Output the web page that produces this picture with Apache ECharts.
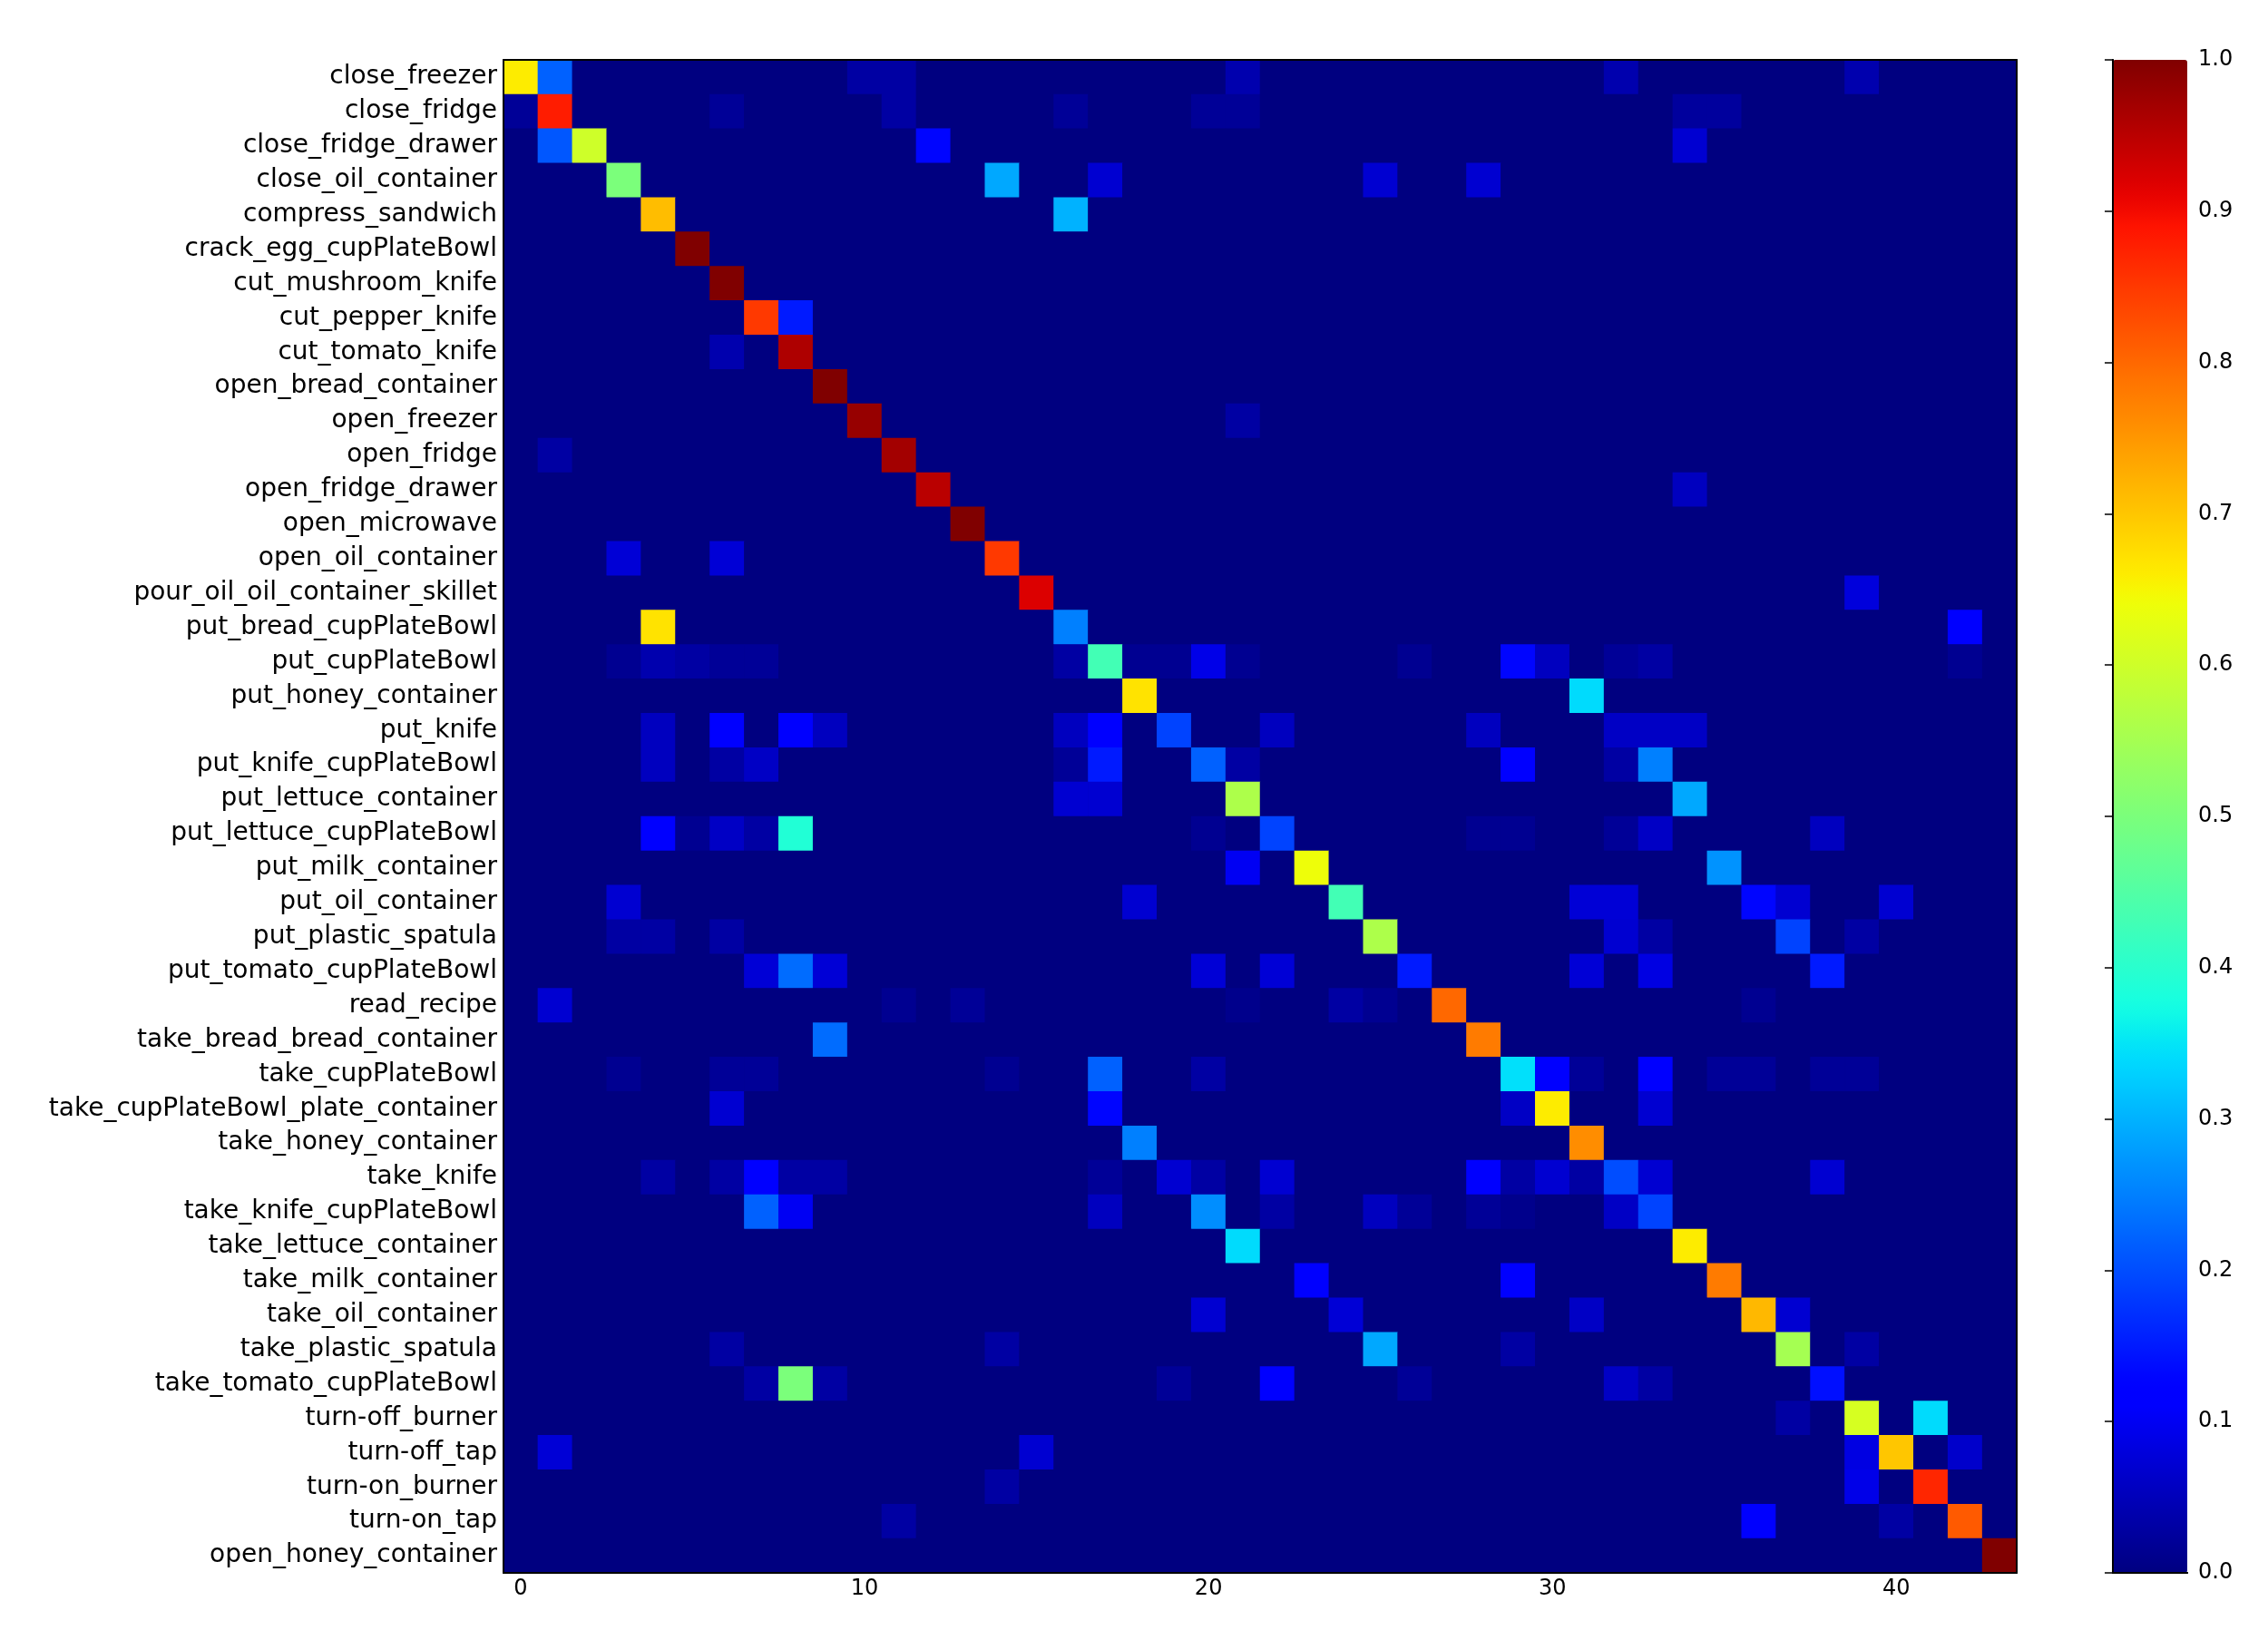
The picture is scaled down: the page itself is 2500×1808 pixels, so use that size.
<!DOCTYPE html>
<html>
<head>
<meta charset="utf-8">
<script src="https://cdn.jsdelivr.net/npm/echarts@6/dist/echarts.min.js"></script>
<style>
  html, body { margin: 0; padding: 0; background: #fff; }
  #chart { width: 2500px; height: 1808px; }
</style>
</head>
<body>
<div id="chart"></div>
<script>
// class names, top to bottom
const labels = [
  'close_freezer', 'close_fridge', 'close_fridge_drawer', 'close_oil_container',
  'compress_sandwich', 'crack_egg_cupPlateBowl', 'cut_mushroom_knife', 'cut_pepper_knife',
  'cut_tomato_knife', 'open_bread_container', 'open_freezer', 'open_fridge',
  'open_fridge_drawer', 'open_microwave', 'open_oil_container', 'pour_oil_oil_container_skillet',
  'put_bread_cupPlateBowl', 'put_cupPlateBowl', 'put_honey_container', 'put_knife',
  'put_knife_cupPlateBowl', 'put_lettuce_container', 'put_lettuce_cupPlateBowl', 'put_milk_container',
  'put_oil_container', 'put_plastic_spatula', 'put_tomato_cupPlateBowl', 'read_recipe',
  'take_bread_bread_container', 'take_cupPlateBowl', 'take_cupPlateBowl_plate_container', 'take_honey_container',
  'take_knife', 'take_knife_cupPlateBowl', 'take_lettuce_container', 'take_milk_container',
  'take_oil_container', 'take_plastic_spatula', 'take_tomato_cupPlateBowl', 'turn-off_burner',
  'turn-off_tap', 'turn-on_burner', 'turn-on_tap', 'open_honey_container'
];

// predicted class index on the x axis
const xCats = labels.map((_, i) => String(i));

// non-zero cells: [row, col, value]; every other cell is 0
const cells = [
  [0, 0, 0.66], [0, 1, 0.22], [0, 10, 0.03], [0, 11, 0.03], [0, 21, 0.04], [0, 32, 0.04], [0, 39, 0.04],
  [1, 0, 0.02], [1, 1, 0.88], [1, 6, 0.02], [1, 11, 0.03], [1, 16, 0.02], [1, 20, 0.02], [1, 21, 0.02], [1, 34, 0.025], [1, 35, 0.025],
  [2, 1, 0.21], [2, 2, 0.6], [2, 12, 0.13], [2, 34, 0.07],
  [3, 3, 0.5], [3, 14, 0.29], [3, 17, 0.07], [3, 25, 0.07], [3, 28, 0.07],
  [4, 4, 0.71], [4, 16, 0.3],
  [5, 5, 1.0],
  [6, 6, 1.0],
  [7, 7, 0.85], [7, 8, 0.15],
  [8, 6, 0.04], [8, 8, 0.96],
  [9, 9, 1.0],
  [10, 10, 0.98], [10, 21, 0.03],
  [11, 1, 0.03], [11, 11, 0.97],
  [12, 12, 0.95], [12, 34, 0.055],
  [13, 13, 1.0],
  [14, 3, 0.075], [14, 6, 0.075], [14, 14, 0.85],
  [15, 15, 0.92], [15, 39, 0.08],
  [16, 4, 0.67], [16, 16, 0.25], [16, 42, 0.12],
  [17, 3, 0.015], [17, 4, 0.04], [17, 5, 0.03], [17, 6, 0.02], [17, 7, 0.02], [17, 16, 0.03], [17, 17, 0.43],
  [17, 18, 0.015], [17, 19, 0.015], [17, 20, 0.09], [17, 21, 0.015], [17, 26, 0.015], [17, 29, 0.13],
  [17, 30, 0.055], [17, 32, 0.02], [17, 33, 0.03], [17, 42, 0.015],
  [18, 18, 0.67], [18, 31, 0.34],
  [19, 4, 0.055], [19, 6, 0.12], [19, 8, 0.12], [19, 9, 0.055], [19, 16, 0.055], [19, 17, 0.12], [19, 19, 0.19],
  [19, 22, 0.055], [19, 28, 0.055], [19, 32, 0.06], [19, 33, 0.06], [19, 34, 0.06],
  [20, 4, 0.055], [20, 6, 0.03], [20, 7, 0.06], [20, 16, 0.02], [20, 17, 0.15], [20, 20, 0.22], [20, 21, 0.03],
  [20, 29, 0.12], [20, 32, 0.03], [20, 33, 0.25],
  [21, 16, 0.07], [21, 17, 0.07], [21, 21, 0.56], [21, 34, 0.29],
  [22, 4, 0.12], [22, 5, 0.015], [22, 6, 0.06], [22, 7, 0.03], [22, 8, 0.39], [22, 20, 0.015], [22, 22, 0.19],
  [22, 28, 0.015], [22, 29, 0.015], [22, 32, 0.02], [22, 33, 0.06], [22, 38, 0.055],
  [23, 21, 0.1], [23, 23, 0.64], [23, 35, 0.27],
  [24, 3, 0.07], [24, 18, 0.07], [24, 24, 0.43], [24, 31, 0.075], [24, 32, 0.075], [24, 36, 0.13], [24, 37, 0.07], [24, 40, 0.07],
  [25, 3, 0.03], [25, 4, 0.03], [25, 6, 0.03], [25, 25, 0.56], [25, 32, 0.07], [25, 33, 0.03], [25, 37, 0.19], [25, 39, 0.03],
  [26, 7, 0.075], [26, 8, 0.23], [26, 9, 0.075], [26, 20, 0.075], [26, 22, 0.075], [26, 26, 0.15],
  [26, 31, 0.075], [26, 33, 0.085], [26, 38, 0.15],
  [27, 1, 0.07], [27, 11, 0.015], [27, 13, 0.02], [27, 21, 0.01], [27, 24, 0.03], [27, 25, 0.015], [27, 27, 0.8], [27, 36, 0.015],
  [28, 9, 0.23], [28, 28, 0.78],
  [29, 3, 0.015], [29, 6, 0.02], [29, 7, 0.02], [29, 14, 0.015], [29, 17, 0.22], [29, 20, 0.03], [29, 29, 0.345],
  [29, 30, 0.12], [29, 31, 0.02], [29, 33, 0.12], [29, 35, 0.02], [29, 36, 0.02], [29, 38, 0.02], [29, 39, 0.02],
  [30, 6, 0.07], [30, 17, 0.13], [30, 29, 0.06], [30, 30, 0.66], [30, 33, 0.07],
  [31, 18, 0.25], [31, 31, 0.76],
  [32, 4, 0.03], [32, 6, 0.03], [32, 7, 0.12], [32, 8, 0.03], [32, 9, 0.03], [32, 17, 0.02], [32, 19, 0.07],
  [32, 20, 0.03], [32, 22, 0.07], [32, 28, 0.11], [32, 29, 0.03], [32, 30, 0.07], [32, 31, 0.03],
  [32, 32, 0.2], [32, 33, 0.07], [32, 38, 0.07],
  [33, 7, 0.22], [33, 8, 0.1], [33, 17, 0.055], [33, 20, 0.265], [33, 22, 0.03], [33, 25, 0.055], [33, 26, 0.02],
  [33, 28, 0.02], [33, 29, 0.01], [33, 32, 0.06], [33, 33, 0.19],
  [34, 21, 0.34], [34, 34, 0.66],
  [35, 23, 0.12], [35, 29, 0.12], [35, 35, 0.78],
  [36, 20, 0.07], [36, 24, 0.075], [36, 31, 0.06], [36, 36, 0.715], [36, 37, 0.07],
  [37, 6, 0.03], [37, 14, 0.03], [37, 25, 0.29], [37, 29, 0.03], [37, 37, 0.55], [37, 39, 0.03],
  [38, 7, 0.03], [38, 8, 0.5], [38, 9, 0.03], [38, 19, 0.02], [38, 22, 0.12], [38, 26, 0.02],
  [38, 32, 0.06], [38, 33, 0.03], [38, 38, 0.14],
  [39, 37, 0.03], [39, 39, 0.61], [39, 41, 0.34],
  [40, 1, 0.075], [40, 15, 0.07], [40, 39, 0.085], [40, 40, 0.7], [40, 42, 0.065],
  [41, 14, 0.03], [41, 39, 0.09], [41, 41, 0.87],
  [42, 11, 0.03], [42, 36, 0.11], [42, 40, 0.03], [42, 42, 0.815],
  [43, 43, 1.0]
];

// colour bar ticks
const barTicks = [0, 0.1, 0.2, 0.3, 0.4, 0.5, 0.6, 0.7, 0.8, 0.9, 1.0];

// matplotlib "jet" colormap
function jet (t) {
  let r, g, b;
  if (t < 0.35) r = 0; else if (t < 0.66) r = (t - 0.35) / 0.31; else if (t < 0.89) r = 1; else r = 1 - 0.5 * (t - 0.89) / 0.11;
  if (t < 0.125) g = 0; else if (t < 0.375) g = (t - 0.125) / 0.25; else if (t < 0.64) g = 1; else if (t < 0.91) g = 1 - (t - 0.64) / 0.27; else g = 0;
  if (t < 0.11) b = 0.5 + 0.5 * t / 0.11; else if (t < 0.34) b = 1; else if (t < 0.65) b = 1 - (t - 0.34) / 0.31; else b = 0;
  const c = (v) => Math.round(Math.max(0, Math.min(1, v)) * 255);
  return 'rgb(' + c(r) + ',' + c(g) + ',' + c(b) + ')';
}
const jetColors = [];
for (let i = 0; i <= 64; i++) jetColors.push(jet(i / 64));

// full matrix from the sparse list
const lookup = {};
cells.forEach(([r, c, v]) => { lookup[r + '_' + c] = v; });
const heatData = [];
for (let r = 0; r < labels.length; r++) {
  for (let c = 0; c < labels.length; c++) {
    heatData.push([c, r, lookup[r + '_' + c] || 0]);
  }
}

const font = 'DejaVu Sans';
const black = '#000';
const tickStyle = { color: black, width: 1.5 };
const lineStyle = { color: black, width: 2 };

const option = {
  backgroundColor: '#fff',
  animation: false,
  grid: [
    // navy behind the cells hides the hairline seams between them
    { left: 555, top: 66, width: 1668, height: 1668, show: true, backgroundColor: jet(0), borderWidth: 0 },
    { left: 2329, top: 66, width: 82, height: 1668 }
  ],
  xAxis: [
    {
      gridIndex: 0, type: 'category', data: xCats, position: 'bottom', z: 10,
      axisLine: { lineStyle: lineStyle },
      axisTick: { inside: true, length: 8, interval: 9, alignWithLabel: true, lineStyle: tickStyle },
      axisLabel: { interval: 9, fontSize: 24, color: black, fontFamily: font, margin: 6 },
      splitLine: { show: false }
    },
    {
      gridIndex: 0, type: 'category', data: xCats, position: 'top', z: 10,
      axisLine: { lineStyle: lineStyle },
      axisTick: { inside: true, length: 8, interval: 9, alignWithLabel: true, lineStyle: tickStyle },
      axisLabel: { show: false },
      splitLine: { show: false }
    },
    {
      gridIndex: 1, type: 'value', min: 0, max: 1, position: 'bottom', z: 10,
      axisLine: { show: true, lineStyle: lineStyle },
      axisTick: { show: false }, axisLabel: { show: false }, splitLine: { show: false }
    },
    {
      gridIndex: 1, type: 'value', min: 0, max: 1, position: 'top', z: 10,
      axisLine: { show: true, lineStyle: lineStyle },
      axisTick: { show: false }, axisLabel: { show: false }, splitLine: { show: false }
    }
  ],
  yAxis: [
    {
      gridIndex: 0, type: 'category', data: labels, inverse: true, position: 'left', z: 10,
      axisLine: { lineStyle: lineStyle },
      axisTick: { inside: true, length: 8, interval: 0, alignWithLabel: true, lineStyle: tickStyle },
      axisLabel: { interval: 0, fontSize: 28, color: black, fontFamily: font, margin: 7 },
      splitLine: { show: false }
    },
    {
      gridIndex: 0, type: 'category', data: labels, inverse: true, position: 'right', z: 10,
      axisLine: { lineStyle: lineStyle },
      axisTick: { inside: true, length: 8, interval: 0, alignWithLabel: true, lineStyle: tickStyle },
      axisLabel: { show: false },
      splitLine: { show: false }
    },
    {
      gridIndex: 1, type: 'value', min: barTicks[0], max: barTicks[barTicks.length - 1], interval: 0.1,
      position: 'right', z: 10,
      axisLine: { show: true, lineStyle: lineStyle },
      axisTick: { show: true, inside: true, length: 9, lineStyle: tickStyle },
      axisLabel: { fontSize: 24, color: black, fontFamily: font, margin: 12, formatter: (v) => v.toFixed(1) },
      splitLine: { show: false }
    },
    {
      gridIndex: 1, type: 'value', min: 0, max: 1, position: 'left', z: 10,
      axisLine: { show: true, lineStyle: lineStyle },
      axisTick: { show: false }, axisLabel: { show: false }, splitLine: { show: false }
    }
  ],
  visualMap: {
    type: 'continuous',
    min: 0,
    max: 1,
    seriesIndex: 0,
    calculable: false,
    orient: 'vertical',
    left: 2329,
    top: 66,
    padding: 0,
    itemWidth: 82,
    itemHeight: 1668,
    text: null,
    showLabel: false,
    hoverLink: false,
    inRange: { color: jetColors }
  },
  series: [
    {
      type: 'heatmap',
      xAxisIndex: 0,
      yAxisIndex: 0,
      data: heatData,
      itemStyle: { borderWidth: 0 },
      emphasis: { disabled: true }
    }
  ]
};

const chart = echarts.init(document.getElementById('chart'), null, { renderer: 'canvas' });
chart.setOption(option);
</script>
</body>
</html>
